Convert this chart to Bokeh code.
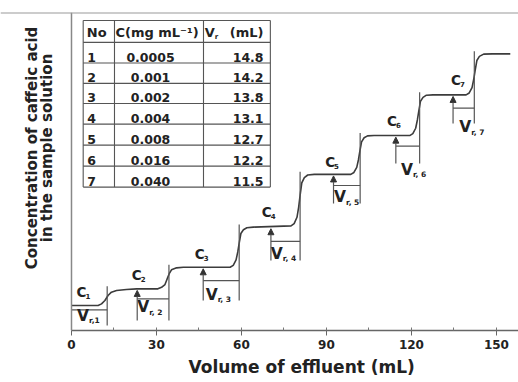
from bokeh.plotting import figure
from bokeh.models import Range1d, SingleIntervalTicker, Label, Arrow, NormalHead, ColumnDataSource, Span, Title
from bokeh.core.properties import value
from bokeh.embed import file_html
from bokeh.resources import INLINE
import math

# ---------------- data ----------------
table_no = ["1", "2", "3", "4", "5", "6", "7"]
table_c = ["0.0005", "0.001", "0.002", "0.004", "0.008", "0.016", "0.040"]
table_vr = ["14.8", "14.2", "13.8", "13.1", "12.7", "12.2", "11.5"]

# breakthrough curve (volume of effluent mL, relative concentration)
curve_x = [0, 9.4, 10.6, 11.8, 12.9, 14.1, 15.9, 19.4, 23.0,
           30.5, 31.8, 33.0, 33.8, 34.5, 35.3, 37.1, 39.5,
           56.0, 57.1, 58.1, 58.7, 59.2, 59.8, 60.7, 61.9, 64.2,
           77.5, 78.6, 79.6, 80.2, 80.7, 81.3, 82.2, 83.4, 85.7,
           98.6, 99.7, 100.7, 101.3, 101.8, 102.4, 103.3, 104.5, 106.8,
           119.4, 120.5, 121.5, 122.1, 122.6, 123.2, 124.1, 125.3, 127.6,
           139.3, 140.4, 141.4, 142.0, 142.5, 143.1, 144.0, 145.5, 148.5, 154.9]
curve_y = [7.86, 7.86, 8.38, 9.43, 11.0, 12.05, 12.6, 12.9, 13.1,
           13.1, 13.58, 14.46, 16.3, 17.86, 19.08, 19.7, 19.9,
           19.9, 20.5, 22.2, 24.7, 27.5, 30.5, 31.7, 32.3, 32.5,
           32.9, 33.6, 35.6, 38.8, 42.5, 46.4, 48.1, 48.9, 49.1,
           49.1, 49.7, 51.3, 53.7, 56.4, 59.3, 60.6, 61.2, 61.3,
           61.3, 61.9, 63.6, 66.2, 69.0, 72.1, 73.3, 74.0, 74.1,
           74.1, 74.7, 76.4, 79.0, 81.8, 84.9, 86.2, 86.9, 87.0, 87.0]

step_levels = [7.86, 13.1, 19.9, 32.5, 49.1, 61.3, 74.1, 87.0]
vr_start = [0, 23.2, 46.5, 70.4, 92.5, 114.5, 134.7]
vr_end = [12.6, 34.4, 59.2, 80.7, 101.9, 122.9, 142.2]
vr_labels = ["r,1", "r, 2", "r, 3", "r, 4", "r, 5", "r, 6", "r, 7"]
c_labels = ["1", "2", "3", "4", "5", "6", "7"]
x_ticks_interval = 30
x_max = 157.8

# ---------------- layout constants ----------------
vr_line_y = [6.5, 9.97, 15.7, 28.0, 45.6, 58.0, 69.9]
vr_bottom = [1.57, 3.14, 9.43, 22.0, 39.9, 52.5, 65.1]
c_pos_x = [3.5, 23.0, 45.3, 68.9, 91.3, 113.1, 135.7]
c_pos_y = [12.0, 17.3, 24.2, 37.2, 52.9, 66.0, 78.9]
v_pos_x = [4.1, 25.3, 49.5, 72.5, 94.8, 118.4, 139.0]
v_pos_y = [4.7, 7.3, 11.3, 24.1, 41.9, 50.6, 63.9]

FNAME = "DejaVu Sans"
FONT = value(FNAME)
TXT = "#222222"
LINE = "#3c3c3c"

p = figure(width=518, height=382, x_range=Range1d(-25.06, x_max), y_range=Range1d(0, 100),
           output_backend="svg", toolbar_location=None,
           min_border_left=0, min_border_right=0, min_border_top=12, min_border_bottom=52)
p.outline_line_color = None
p.background_fill_color = "white"
p.border_fill_color = "white"
p.xgrid.visible = False
p.ygrid.visible = False
p.yaxis.visible = False

# x axis
xa = p.xaxis[0]
xa.bounds = (0, x_max)
xa.ticker = SingleIntervalTicker(interval=x_ticks_interval, num_minor_ticks=2)
xa.axis_line_color = "#666666"
xa.axis_line_width = 1.3
xa.major_tick_line_color = "#666666"
xa.major_tick_in = 0
xa.major_tick_out = 5
xa.minor_tick_line_color = "#777777"
xa.minor_tick_in = 3
xa.minor_tick_out = 0
xa.major_label_text_font = FNAME
xa.major_label_text_font_style = "bold"
xa.major_label_text_font_size = "12px"
xa.major_label_text_color = TXT
xa.major_label_standoff = 4

# x axis title, placed under the data range
p.add_layout(Title(text="Volume of effluent (mL)", text_font=FNAME, text_font_style="bold",
                   text_font_size="17px", text_color=TXT, align="left", offset=188,
                   standoff=6), "below")

# left frame line and top frame line
p.add_layout(Span(location=0, dimension="height", line_color="#888888", line_width=1.5))
p.add_layout(Span(location=100, dimension="width", line_color="#999999", line_width=2))

# y axis title (two lines)
p.add_layout(Label(x=-13.8, y=57.4, text="Concentration of caffeic acid", text_font=FNAME,
                   text_font_style="bold", text_font_size="15px", text_color=TXT,
                   text_align="center", text_baseline="middle", angle=math.pi / 2))
p.add_layout(Label(x=-8.5, y=57.4, text="in the sample solution", text_font=FNAME,
                   text_font_style="bold", text_font_size="15px", text_color=TXT,
                   text_align="center", text_baseline="middle", angle=math.pi / 2))

# curve
p.line(curve_x, curve_y, line_color=LINE, line_width=1.6)

# V_r markers
n = len(vr_start)
p.segment(x0=vr_start, y0=vr_line_y, x1=vr_end, y1=vr_line_y, line_color="#555555", line_width=1.2)
p.segment(x0=vr_end, y0=vr_bottom, x1=vr_end, y1=[step_levels[i + 1] + 0.8 for i in range(n)],
          line_color="#555555", line_width=1.2)
arr_src = ColumnDataSource(dict(x=vr_start[1:], y0=vr_bottom[1:], y1=[step_levels[i] - 0.5 for i in range(1, n)]))
p.add_layout(Arrow(end=NormalHead(size=6, fill_color="#333333", line_color="#333333"),
                   x_start="x", y_start="y0", x_end="x", y_end="y1", source=arr_src,
                   line_color="#555555", line_width=1.2))

# C labels
p.text(x=c_pos_x, y=c_pos_y, text=["C"] * n, text_font=FONT, text_font_style="bold",
       text_font_size="13.5px", text_color=TXT, text_align="center", text_baseline="middle")
p.text(x=c_pos_x, y=c_pos_y, text=c_labels, text_font=FONT, text_font_style="bold",
       text_font_size="7px", text_color=TXT, text_align="left", text_baseline="middle",
       x_offset=4, y_offset=4)
# V labels
p.text(x=v_pos_x, y=v_pos_y, text=["V"] * n, text_font=FONT, text_font_style="bold",
       text_font_size="15.5px", text_color=TXT, text_align="center", text_baseline="middle")
p.text(x=v_pos_x, y=v_pos_y, text=vr_labels, text_font=FONT, text_font_style="bold",
       text_font_size="7.5px", text_color=TXT, text_align="left", text_baseline="middle",
       x_offset=6, y_offset=5)

# table
tx = [4.13, 15.18, 46.6, 70.2]
ty_top = 97.5
ty_head = 90.6
row_lines = [84.1, 77.7, 71.4, 64.9, 58.3, 51.7, 45.1]
hl = [ty_top, ty_head] + row_lines
p.segment(x0=[tx[0]] * len(hl), y0=hl, x1=[tx[3]] * len(hl), y1=hl, line_color="#555555", line_width=1.1)
p.segment(x0=tx, y0=[row_lines[-1]] * 4, x1=tx, y1=[ty_top] * 4, line_color="#555555", line_width=1.1)

p.text(x=[5.6] * n, y=[r + 0.3 for r in row_lines], text=table_no, text_font=FONT, text_font_style="bold",
       text_font_size="12.5px", text_color=TXT, text_align="left", text_baseline="bottom")
p.text(x=[27.9] * n, y=[r + 0.3 for r in row_lines], text=table_c, text_font=FONT, text_font_style="bold",
       text_font_size="12.5px", text_color=TXT, text_align="center", text_baseline="bottom")
p.text(x=[67.8] * n, y=[r + 0.3 for r in row_lines], text=table_vr, text_font=FONT, text_font_style="bold",
       text_font_size="12.5px", text_color=TXT, text_align="right", text_baseline="bottom")
# header
hy = 93.6
p.text(x=[5.4], y=[hy], text=["No"], text_font=FONT, text_font_style="bold",
       text_font_size="13px", text_color=TXT, text_align="left", text_baseline="middle")
p.text(x=[15.5], y=[hy], text=["C(mg mL\u207b\u00b9)"], text_font=FONT, text_font_style="bold",
       text_font_size="13px", text_color=TXT, text_align="left", text_baseline="middle")
p.text(x=[47.0], y=[hy], text=["V"], text_font=FONT, text_font_style="bold",
       text_font_size="13px", text_color=TXT, text_align="left", text_baseline="middle")
p.text(x=[47.0], y=[hy], text=["r"], text_font=FONT, text_font_style="bold",
       text_font_size="7px", text_color=TXT, text_align="left", text_baseline="middle",
       x_offset=10, y_offset=4)
p.text(x=[67.8], y=[hy], text=["(mL)"], text_font=FONT, text_font_style="bold",
       text_font_size="13px", text_color=TXT, text_align="right", text_baseline="middle")

open("out.html", "w").write(file_html(p, INLINE))
